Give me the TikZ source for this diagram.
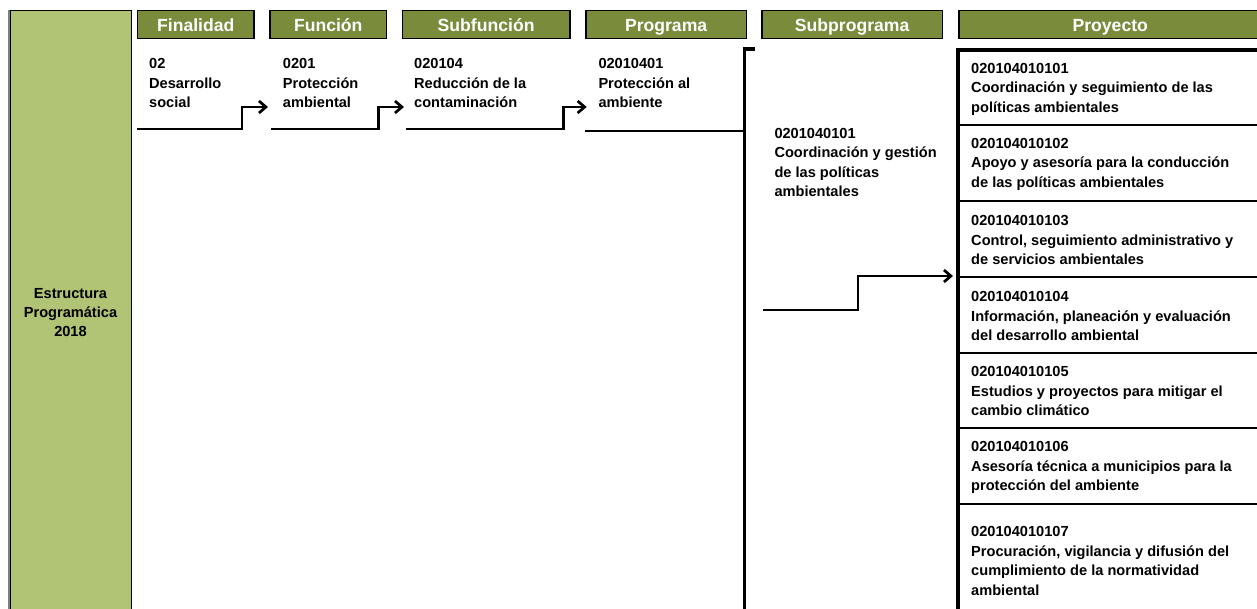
\documentclass[tikz,border=0pt]{standalone}
\usepackage{fontspec}
\setmainfont{Liberation Sans}
\usetikzlibrary{arrows.meta}
\definecolor{lightolive}{RGB}{177,195,116}
\definecolor{darkolive}{RGB}{122,139,60}
\begin{document}
\begin{tikzpicture}[x=1pt,y=-1pt,
  hdr/.style={draw=black, line width=1.5pt, fill=darkolive, text=white,
    font=\bfseries\fontsize{17.6}{20}\selectfont, minimum height=28pt,
    inner sep=0pt, text height=12.6pt, text depth=0pt, anchor=north west},
  body/.style={font=\bfseries\fontsize{14.6}{19.5}\selectfont, align=left,
    inner sep=0pt, anchor=north west},
  proj/.style={draw=black, line width=2.2pt, minimum width=303pt, anchor=north west, inner sep=0pt},
  conn/.style={line width=2.7pt},
  arr/.style={conn, -{Straight Barb[length=7pt,width=12pt]}},
]
\useasboundingbox (0,0) rectangle (1257,609);
\clip (0,0) rectangle (1257,609);

% left column
\node[draw=black, line width=1.5pt, fill=lightolive, minimum width=121.5pt,
  minimum height=604pt, anchor=north west, align=center, inner sep=0pt,
  font=\bfseries\fontsize{14.6}{19}\selectfont] (estr) at (9,10)
  {Estructura\\Programática\\2018};
\draw[gray, line width=1.8pt] (estr.north west) -- (estr.south west);

% headers
\node[hdr, minimum width=116.6pt] (hfin) at (136.7,10) {Finalidad};
\node[hdr, minimum width=116.4pt] (hfun) at (269.3,10) {Función};
\node[hdr, minimum width=167.3pt] (hsub) at (401.7,10) {Subfunción};
\node[hdr, minimum width=160.7pt] (hprg) at (585,10) {Programa};
\node[hdr, minimum width=180.7pt] (hspr) at (761,10) {Subprograma};
\node[hdr, minimum width=303pt] (hpry) at (958,10) {Proyecto};

% column texts
\node[body] (tfin) at (149,58.6) {02\\Desarrollo\\social};
\node[body] (tfun) at (282.7,58.6) {0201\\Protección\\ambiental};
\node[body] (tsub) at (414,58.6) {020104\\Reducción de la\\contaminación};
\node[body] (tprg) at (598.3,58.6) {02010401\\Protección al\\ambiente};
\node[body] (tspr) at (774.3,127.9) {0201040101\\Coordinación y gestión\\de las políticas\\ambientales};

% project boxes
\node[proj, minimum height=74pt] (p1) at (958,50) {};
\node[proj, minimum height=76pt] (p2) at (958,124) {};
\node[proj, minimum height=76pt] (p3) at (958,200) {};
\node[proj, minimum height=76pt] (p4) at (958,276) {};
\node[proj, minimum height=75pt] (p5) at (958,352) {};
\node[proj, minimum height=76pt] (p6) at (958,427) {};
\node[proj, minimum height=120pt] (p7) at (958,503) {};
\draw[line width=3.2pt] (p7.south west) -- (p1.north west) -- (p1.north east);

\node[body] (t1) at (971,62.9) {020104010101\\Coordinación y seguimiento de las\\políticas ambientales};
\node[body] (t2) at (971,137.9) {020104010102\\Apoyo y asesoría para la conducción\\de las políticas ambientales};
\node[body] (t3) at (971,215.6) {020104010103\\Control, seguimiento administrativo y\\de servicios ambientales};
\node[body] (t4) at (971,291.3) {020104010104\\Información, planeación y evaluación\\del desarrollo ambiental};
\node[body] (t5) at (971,366.6) {020104010105\\Estudios y proyectos para mitigar el\\cambio climático};
\node[body] (t6) at (971,441.6) {020104010106\\Asesoría técnica a municipios para la\\protección del ambiente};
\node[body] (t7) at (971,526.3) {020104010107\\Procuración, vigilancia y difusión del\\cumplimiento de la normatividad\\ambiental};

% connectors
\coordinate (a1s) at (137,129); \coordinate (a1e) at (268,107);
\coordinate (a2s) at (271,129); \coordinate (a2e) at (404,107);
\coordinate (a3s) at (406,129); \coordinate (a3e) at (586.7,107);
\coordinate (a4s) at (585,131); \coordinate (a4e) at (744.5,131);
\coordinate (a5s) at (763,310); \coordinate (a5e) at (953,276);
\coordinate (brt) at (755,49); \coordinate (brc) at (744.5,49); \coordinate (brb) at (744.5,620);

\draw[arr] (a1s) -- (242,129) |- (a1e);
\draw[arr] (a2s) -- (378.3,129) |- (a2e);
\draw[arr] (a3s) -- (563.3,129) |- (a3e);
\draw[conn] (a4s) -- (a4e);
\draw[line width=3.2pt] (brt) -- (brc) -- (brb);
\draw[arr] (a5s) -- (858,310) |- (a5e);
\end{tikzpicture}
\end{document}
